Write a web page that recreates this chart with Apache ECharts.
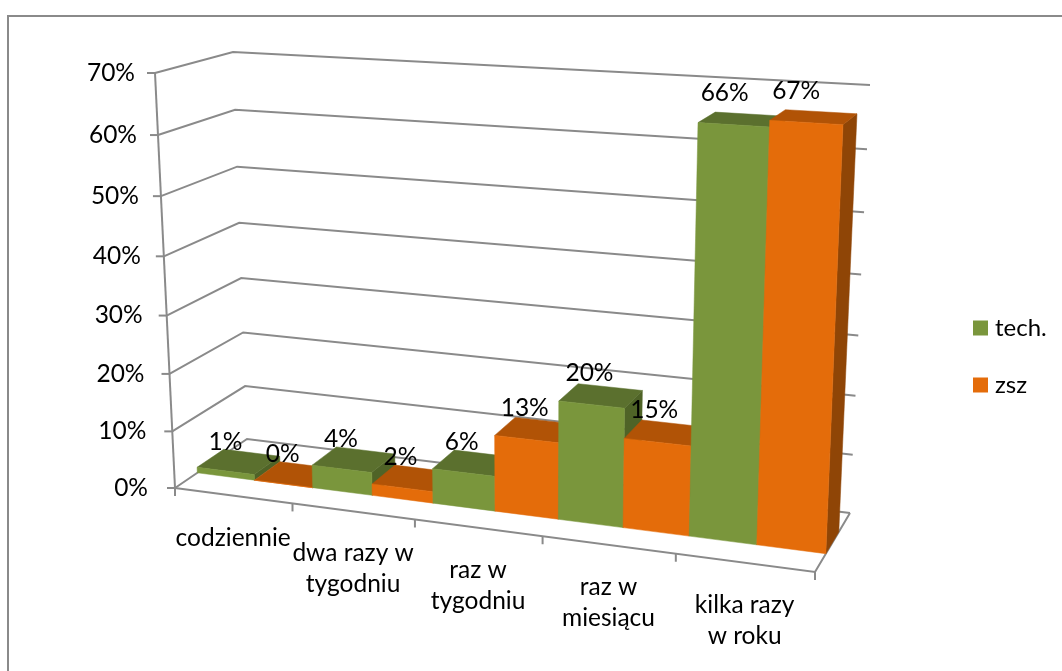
<!DOCTYPE html>
<html><head><meta charset="utf-8">
<style>html,body{margin:0;padding:0;background:#fff}#c{width:1062px;height:671px}</style>
<script src="https://cdn.jsdelivr.net/npm/echarts@6/dist/echarts.min.js"></script>
</head><body><div id="c"></div>
<script>
const categories = ['codziennie','dwa razy w\ntygodniu','raz w\ntygodniu','raz w\nmiesiącu','kilka razy\nw roku'];
const techValues = [1,4,6,20,66];
const zszValues = [0,2,13,15,67];
const yTicks = [0,10,20,30,40,50,60,70];

const FONT = 'Lato, "Open Sans", sans-serif';
const FS = 24.5;
const LINE = '#8a8a8a';
const COLORS = {
  tech: {front:'#7a963c', top:'#5b702e', side:'#4f6327'},
  zsz: {front:'#e46c0a', top:'#b15306', side:'#8f4506'}
};
// Corners of the two projected chart planes: (u,w) = (0,0),(1,0),(1,1),(0,1)
const FRONT = [[175,488],[815,572],[832,113],[155,73]];
const BACK = [[247,439],[850,513],[870,85],[233,52]];
const BAR_D0 = 0.31, BAR_D1 = 0.68;

function homography(q){
  const [x0,y0]=q[0],[x1,y1]=q[1],[x2,y2]=q[2],[x3,y3]=q[3];
  const dx1=x1-x2,dx2=x3-x2,dx3=x0-x1+x2-x3,dy1=y1-y2,dy2=y3-y2,dy3=y0-y1+y2-y3;
  const den=dx1*dy2-dx2*dy1;
  const g=(dx3*dy2-dx2*dy3)/den,h=(dx1*dy3-dx3*dy1)/den;
  const a=x1-x0+g*x1,b=x3-x0+h*x3,d=y1-y0+g*y1,e=y3-y0+h*y3;
  return (u,w)=>{const t=g*u+h*w+1;return [(a*u+b*w+x0)/t,(d*u+e*w+y0)/t];};
}
const HF=homography(FRONT),HB=homography(BACK);
function project(params,px,py,depth){
  const cs=params.coordSys;
  const u=(px-cs.x)/cs.width,w=(cs.y+cs.height-py)/cs.height;
  const f=HF(u,w),b=HB(u,w);
  return [f[0]+(b[0]-f[0])*depth,f[1]+(b[1]-f[1])*depth];
}
const lineEl=(pts,w)=>({type:'polyline',shape:{points:pts},silent:true,z2:2,
  style:{fill:null,stroke:LINE,lineWidth:w||2}});

function barRenderer(key,slot){
  const col=COLORS[key];
  return function(params,api){
    const i=api.value(0),v=api.value(1);
    const band=api.size([1,0])[0];
    const cx=api.coord([i,0])[0];
    const xL=cx-band/2+slot*band/2,xR=xL+band/2,xM=(xL+xR)/2;
    const y0=api.coord([i,0])[1],y1=api.coord([i,v])[1];
    const P=(x,y,d)=>project(params,x,y,d);
    const z=10+(i*2+slot)*3;
    const poly=(pts,fill,dz)=>({type:'polygon',shape:{points:pts},z2:z+dz,
      style:{fill,stroke:fill,lineWidth:0.5}});
    const lab=P(xM,y1,BAR_D1);
    const c=i+0.25+slot*0.5;
    return {type:'group',children:[
      poly([P(xR,y0,BAR_D0),P(xR,y0,BAR_D1),P(xR,y1,BAR_D1),P(xR,y1,BAR_D0)],col.side,0),
      poly([P(xL,y1,BAR_D0),P(xR,y1,BAR_D0),P(xR,y1,BAR_D1),P(xL,y1,BAR_D1)],col.top,1),
      poly([P(xL,y0,BAR_D0),P(xR,y0,BAR_D0),P(xR,y1,BAR_D0),P(xL,y1,BAR_D0)],col.front,1),
      {type:'text',z2:1000,silent:true,style:{text:v+'%',
        x:lab[0]-26.5+c*1.2-v*0.06+0.0035*v*Math.max(0,66-v),y:lab[1]-(11+v*0.15),
        align:'center',verticalAlign:'middle',font:FS+'px '+FONT,fill:'#000'}}
    ]};
  };
}
function wallRenderer(params,api){
  const v=api.value(1);
  const y=api.coord([0,v])[1],cs=params.coordSys,xl=cs.x,xr=cs.x+cs.width;
  const a=project(params,xl,y,0),b=project(params,xl,y,1),c=project(params,xr,y,1);
  const kids=[
    lineEl([a,b,c]),
    lineEl([[a[0]-8,a[1]],a]),
    {type:'text',z2:1000,silent:true,style:{text:v+'%',x:a[0]-20-(70-v)/70*7,y:a[1],
      align:'right',verticalAlign:'middle',font:FS+'px '+FONT,fill:'#000'}}
  ];
  if(v===0){
    const top=project(params,xl,cs.y,0);
    kids.push(lineEl([top,a]));
    const f=project(params,xr,y,0);
    kids.push(lineEl([a,f,c]));
  }
  return {type:'group',children:kids};
}
function catRenderer(params,api){
  const i=api.value(0);
  const band=api.size([1,0])[0];
  const [cx,y]=api.coord([i,0]);
  const mid=project(params,cx,y,0),r=project(params,cx+band/2,y,0);
  const kids=[
    lineEl([r,[r[0],r[1]+8]]),
    {type:'text',z2:1000,silent:true,style:{text:categories[i],x:mid[0],y:mid[1]+26.5,
      align:'center',verticalAlign:'top',lineHeight:31,font:FS+'px '+FONT,fill:'#000'}}
  ];
  if(i===0){const l=project(params,cx-band/2,y,0);kids.push(lineEl([l,[l[0],l[1]+8]]));}
  return {type:'group',children:kids};
}
const chart=echarts.init(document.getElementById('c'),null,{renderer:'canvas'});
chart.setOption({
  animation:false,
  backgroundColor:'#fff',
  graphic:[{type:'polyline',silent:true,shape:{points:[[8,671],[8,16],[1062,16]]},
    style:{fill:null,stroke:'#8a8a8a',lineWidth:2}}],
  grid:{left:100,right:100,top:100,bottom:100},
  xAxis:{type:'category',data:categories,show:false},
  yAxis:{type:'value',min:0,max:70,interval:10,show:false},
  legend:{orient:'vertical',left:973,top:316,padding:0,itemWidth:15,itemHeight:15,itemGap:33,
    data:[{name:'tech.',icon:'rect',itemStyle:{color:COLORS.tech.front}},
          {name:'zsz',icon:'rect',itemStyle:{color:COLORS.zsz.front}}],
    selectedMode:false,
    textStyle:{fontFamily:FONT,fontSize:24,color:'#000',padding:[0,0,0,2]}},
  series:[
    {type:'custom',name:'walls',data:yTicks.map(v=>[0,v]),renderItem:wallRenderer,silent:true},
    {type:'custom',name:'cats',data:categories.map((c,i)=>[i,0]),renderItem:catRenderer,silent:true},
    {type:'custom',name:'tech.',data:techValues.map((v,i)=>[i,v]),encode:{x:0,y:1},
      itemStyle:{color:COLORS.tech.front},renderItem:barRenderer('tech',0)},
    {type:'custom',name:'zsz',data:zszValues.map((v,i)=>[i,v]),encode:{x:0,y:1},
      itemStyle:{color:COLORS.zsz.front},renderItem:barRenderer('zsz',1)}
  ]
});
</script></body></html>
